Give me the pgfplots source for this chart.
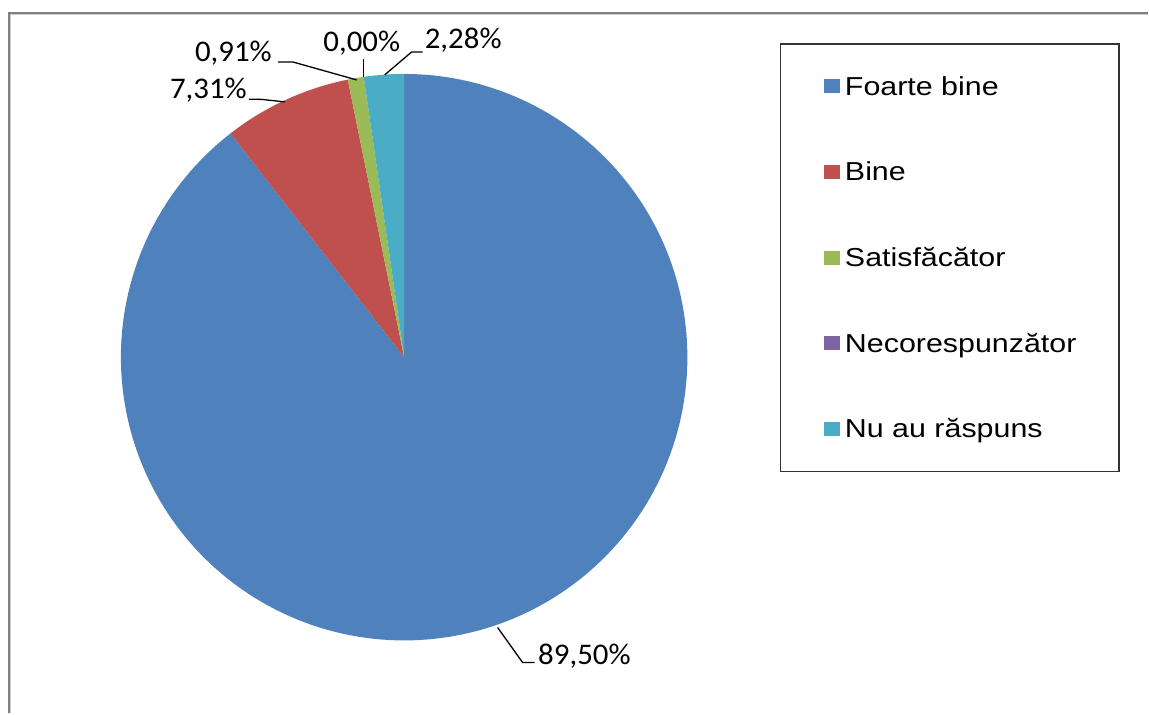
\documentclass[border=0pt]{standalone}
\usepackage{pgfplots}
\usepackage{pgfplotstable}
\pgfplotsset{compat=1.18}
\usepackage{fontspec}
\setmainfont{Liberation Sans}
\newfontfamily\legfont[FakeStretch=1.17]{Liberation Sans}
\newfontfamily\labfont[FakeStretch=1.03]{Carlito}
\definecolor{cA}{HTML}{4F81BD}
\definecolor{cB}{HTML}{C0504D}
\definecolor{cC}{HTML}{9BBB59}
\definecolor{cD}{HTML}{8064A2}
\definecolor{cE}{HTML}{4BACC6}
\definecolor{frame}{HTML}{808080}
\pgfplotstableread{
idx value
0 89.50
1 7.31
2 0.91
3 0.00
4 2.28
}\piedata
\begin{document}
\begin{tikzpicture}
\pgfplotstablegetelem{0}{value}\of\piedata \let\vA\pgfplotsretval
\pgfplotstablegetelem{1}{value}\of\piedata \let\vB\pgfplotsretval
\pgfplotstablegetelem{2}{value}\of\piedata \let\vC\pgfplotsretval
\pgfplotstablegetelem{3}{value}\of\piedata \let\vD\pgfplotsretval
\pgfplotstablegetelem{4}{value}\of\piedata \let\vE\pgfplotsretval
\pgfmathsetmacro\aA{90}
\pgfmathsetmacro\aB{\aA-3.6*\vA}
\pgfmathsetmacro\aC{\aB-3.6*\vB}
\pgfmathsetmacro\aD{\aC-3.6*\vC}
\pgfmathsetmacro\aE{\aD-3.6*\vD}
\pgfmathsetmacro\aF{\aE-3.6*\vE}
\def\cx{404.5}
\def\cy{356.5}
\def\R{283.5}
\begin{axis}[
  x=1pt, y=1pt,
  xmin=0, xmax=1149, ymin=0, ymax=714,
  hide axis, clip=false,
  legend cell align=left,
  legend image code/.code={\fill[#1, draw=none] (0pt,-7pt) rectangle (15.5pt,7pt);},
  legend style={
    at={(axis cs:825,639)}, anchor=north west,
    draw=none, fill=none, inner sep=0pt,
    column sep=5pt, row sep=63.15pt,
    font=\legfont\fontsize{26}{30}\selectfont,
    nodes={inner sep=0pt, text height=20pt, text depth=2.6pt},
  },
]
\path (axis cs:0,0) rectangle (axis cs:1149,714);
% frame
\draw[frame, line width=2pt] (axis cs:9.3,0) -- (axis cs:9.3,700.7) -- (axis cs:1149,700.7);
\draw[frame!40, line width=1pt] (axis cs:11,0) -- (axis cs:11,699) -- (axis cs:1149,699);
% slices
\addplot[fill=cA, draw=none, domain=\aB:\aA, samples=200, forget plot] ({\cx+\R*cos(x)},{\cy+\R*sin(x)}) -- (axis cs:\cx,\cy) -- cycle;
\addplot[fill=cB, draw=none, domain=\aC:\aB, samples=30, forget plot] ({\cx+\R*cos(x)},{\cy+\R*sin(x)}) -- (axis cs:\cx,\cy) -- cycle;
\addplot[fill=cC, draw=none, domain=\aD:\aC, samples=10, forget plot] ({\cx+\R*cos(x)},{\cy+\R*sin(x)}) -- (axis cs:\cx,\cy) -- cycle;
\addplot[fill=cE, draw=none, domain=\aF:\aE, samples=15, forget plot] ({\cx+\R*cos(x)},{\cy+\R*sin(x)}) -- (axis cs:\cx,\cy) -- cycle;
% leader lines
\draw[black, line width=1.3pt] (axis cs:498,86) -- (axis cs:523,51) -- (axis cs:535,51);
\draw[black, line width=1.3pt] (axis cs:249,614.7) -- (axis cs:262,614.5) -- (axis cs:285,612);
\draw[black, line width=1.3pt] (axis cs:278,652) -- (axis cs:293,652) -- (axis cs:357,634);
\draw[black, line width=1.3pt] (axis cs:364,655) -- (axis cs:364,637);
\draw[black, line width=1.3pt] (axis cs:423,662) -- (axis cs:412,662) -- (axis cs:385,639);
% data labels
\node[anchor=base west, inner sep=0pt, font=\labfont\fontsize{30}{35}\selectfont] at (axis cs:538.5,49) {89,50\%};
\node[anchor=base west, inner sep=0pt, font=\labfont\fontsize{30}{35}\selectfont] at (axis cs:170,615.7) {7,31\%};
\node[anchor=base west, inner sep=0pt, font=\labfont\fontsize{30}{35}\selectfont] at (axis cs:195,652.3) {0,91\%};
\node[anchor=base west, inner sep=0pt, font=\labfont\fontsize{30}{35}\selectfont] at (axis cs:323.5,662.3) {0,00\%};
\node[anchor=base west, inner sep=0pt, font=\labfont\fontsize{30}{35}\selectfont] at (axis cs:425,665.7) {2,28\%};
% legend box
\draw[black!80, line width=1.5pt] (axis cs:781,670) rectangle (axis cs:1120,242.3);
\addlegendimage{fill=cA}\addlegendentry{Foarte bine}
\addlegendimage{fill=cB}\addlegendentry{Bine}
\addlegendimage{fill=cC}\addlegendentry{Satisfăcător}
\addlegendimage{fill=cD}\addlegendentry{Necorespunzător}
\addlegendimage{fill=cE}\addlegendentry{Nu au răspuns}
\end{axis}
\end{tikzpicture}
\end{document}
